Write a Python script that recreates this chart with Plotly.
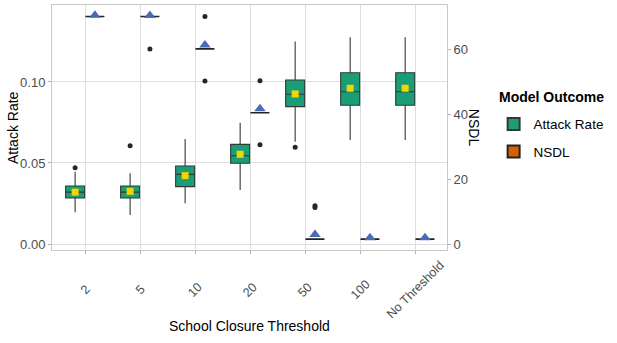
import plotly.graph_objects as go

# ---------------- data ----------------
categories = ["2", "5", "10", "20", "50", "100", "No Threshold"]

ar_q1 = [0.0284, 0.0284, 0.0354, 0.0498, 0.0848, 0.0856, 0.0856]
ar_median = [0.0320, 0.0320, 0.0430, 0.0545, 0.0924, 0.0940, 0.0940]
ar_q3 = [0.0358, 0.0358, 0.0481, 0.0615, 0.1012, 0.1057, 0.1057]
ar_low = [0.0196, 0.0179, 0.0251, 0.0333, 0.0631, 0.0642, 0.0642]
ar_high = [0.0446, 0.0436, 0.0648, 0.0749, 0.1249, 0.1276, 0.1276]
ar_mean = [0.0320, 0.0325, 0.0422, 0.0554, 0.0926, 0.0961, 0.0961]
ar_out_cat = [0, 1, 4]
ar_out_val = [0.0471, 0.0607, 0.0597]

nsdl_q1 = [70.2, 70.2, 60.2, 40.5, 1.5, 1.5, 1.5]
nsdl_median = [70.2, 70.2, 60.2, 40.5, 1.5, 1.5, 1.5]
nsdl_q3 = [70.2, 70.2, 60.2, 40.5, 1.5, 1.5, 1.5]
nsdl_low = [70.2, 70.2, 60.2, 40.5, 1.5, 1.5, 1.5]
nsdl_high = [70.2, 70.2, 60.2, 40.5, 1.5, 1.5, 1.5]
nsdl_mean = [70.6, 70.5, 61.4, 41.7, 2.9, 1.9, 1.9]
nsdl_out_cat = [1, 2, 2, 3, 3, 4, 4]
nsdl_out_val = [60.2, 70.2, 50.3, 50.4, 30.6, 11.3, 11.8]

left_ticks = [0.0, 0.05, 0.10]
right_ticks = [0, 20, 40, 60]
SEC_SCALE = 500  # NSDL = Attack Rate * 500 on the secondary axis

# ---------------- style ----------------
FONT = "Liberation Sans, Arial, sans-serif"
GREEN = "#1B9E77"
ORANGE = "#D95F02"
DODGE = 0.18
BOXW = 0.345
idx = list(range(len(categories)))
x_ar = [i - DODGE for i in idx]
x_ns = [i + DODGE for i in idx]

fig = go.Figure()

fig.add_trace(go.Box(
    name="Attack Rate", x=x_ar, q1=ar_q1, median=ar_median, q3=ar_q3,
    lowerfence=ar_low, upperfence=ar_high, width=BOXW, whiskerwidth=0,
    fillcolor=GREEN, line=dict(color="#2E3B36", width=1.1),
    boxpoints=False, yaxis="y", showlegend=True, hoverinfo="skip",
    legendgroup="ar"))

fig.add_trace(go.Box(
    name="NSDL", x=x_ns, q1=nsdl_q1, median=nsdl_median, q3=nsdl_q3,
    lowerfence=nsdl_low, upperfence=nsdl_high, width=BOXW, whiskerwidth=0,
    fillcolor=ORANGE, line=dict(color="#222222", width=1.6),
    boxpoints=False, yaxis="y2", showlegend=True, hoverinfo="skip",
    legendgroup="ns"))

# outliers
fig.add_trace(go.Scatter(
    x=[c - DODGE for c in ar_out_cat], y=ar_out_val, mode="markers",
    marker=dict(color="#262626", size=5), yaxis="y", showlegend=False))
fig.add_trace(go.Scatter(
    x=[c + DODGE for c in nsdl_out_cat], y=nsdl_out_val, mode="markers",
    marker=dict(color="#262626", size=5), yaxis="y2", showlegend=False))

# means
fig.add_trace(go.Scatter(
    x=x_ar, y=ar_mean, mode="markers",
    marker=dict(symbol="square", color="#F2D600", size=7), yaxis="y", showlegend=False))
fig.add_trace(go.Scatter(
    x=x_ns, y=nsdl_mean, mode="markers",
    marker=dict(symbol="triangle-up", color="#4A6AB5", size=10), yaxis="y2", showlegend=False))

yr = [-0.0037, 0.1475]

annotations = []
for i, lab in enumerate(categories):
    annotations.append(dict(
        x=i, y=-0.163, xref="x", yref="paper", text=lab, showarrow=False,
        textangle=-45, xanchor="center", yanchor="middle",
        font=dict(family=FONT, size=12.5, color="#4D4D4D")))
annotations += [
    dict(x=0.5, y=-0.31, xref="paper", yref="paper", text="School Closure Threshold",
         showarrow=False, xanchor="center", yanchor="middle",
         font=dict(family=FONT, size=14, color="#000000")),
    dict(x=-0.1, y=0.5, xref="paper", yref="paper", text="Attack Rate",
         showarrow=False, textangle=-90, xanchor="center", yanchor="middle",
         font=dict(family=FONT, size=14, color="#000000")),
    dict(x=1.07, y=0.5, xref="paper", yref="paper", text="NSDL",
         showarrow=False, textangle=90, xanchor="center", yanchor="middle",
         font=dict(family=FONT, size=14, color="#000000")),
    dict(x=1.127, y=0.623, xref="paper", yref="paper", text="<b>Model Outcome</b>",
         showarrow=False, xanchor="left", yanchor="middle",
         font=dict(family=FONT, size=14, color="#000000")),
]

fig.update_layout(
    width=617, height=343,
    margin=dict(l=52, r=170, t=5, b=93),
    paper_bgcolor="white", plot_bgcolor="white",
    font=dict(family=FONT, size=12, color="#4D4D4D"),
    boxmode="overlay",
    xaxis=dict(
        range=[-0.6, 6.58], tickvals=idx, showticklabels=False,
        ticks="outside", ticklen=3, tickcolor="#B3B3B3",
        showgrid=True, gridcolor="#DEDEDE", gridwidth=1, zeroline=False,
        showline=True, linecolor="#C8C8C8", mirror=True),
    yaxis=dict(
        range=yr, tickvals=left_ticks, tickformat=".2f",
        ticks="outside", ticklen=3, tickcolor="#B3B3B3",
        tickfont=dict(family=FONT, size=13, color="#4D4D4D"),
        showgrid=True, gridcolor="#DEDEDE", gridwidth=1, zeroline=False,
        showline=True, linecolor="#C8C8C8", mirror=True),
    yaxis2=dict(
        range=[yr[0] * SEC_SCALE, yr[1] * SEC_SCALE], tickvals=right_ticks,
        overlaying="y", side="right",
        ticks="outside", ticklen=3, tickcolor="#B3B3B3",
        tickfont=dict(family=FONT, size=13, color="#4D4D4D"),
        showgrid=False, zeroline=False, showline=False),
    legend=dict(
        x=1.118, y=0.577, xanchor="left", yanchor="top",
        font=dict(family=FONT, size=13.5, color="#000000"),
        bgcolor="rgba(0,0,0,0)", itemsizing="constant", tracegroupgap=7),
    annotations=annotations,
)

fig.write_html("out.html", config={"displayModeBar": False},
               post_script="document.body.style.margin='0';")
